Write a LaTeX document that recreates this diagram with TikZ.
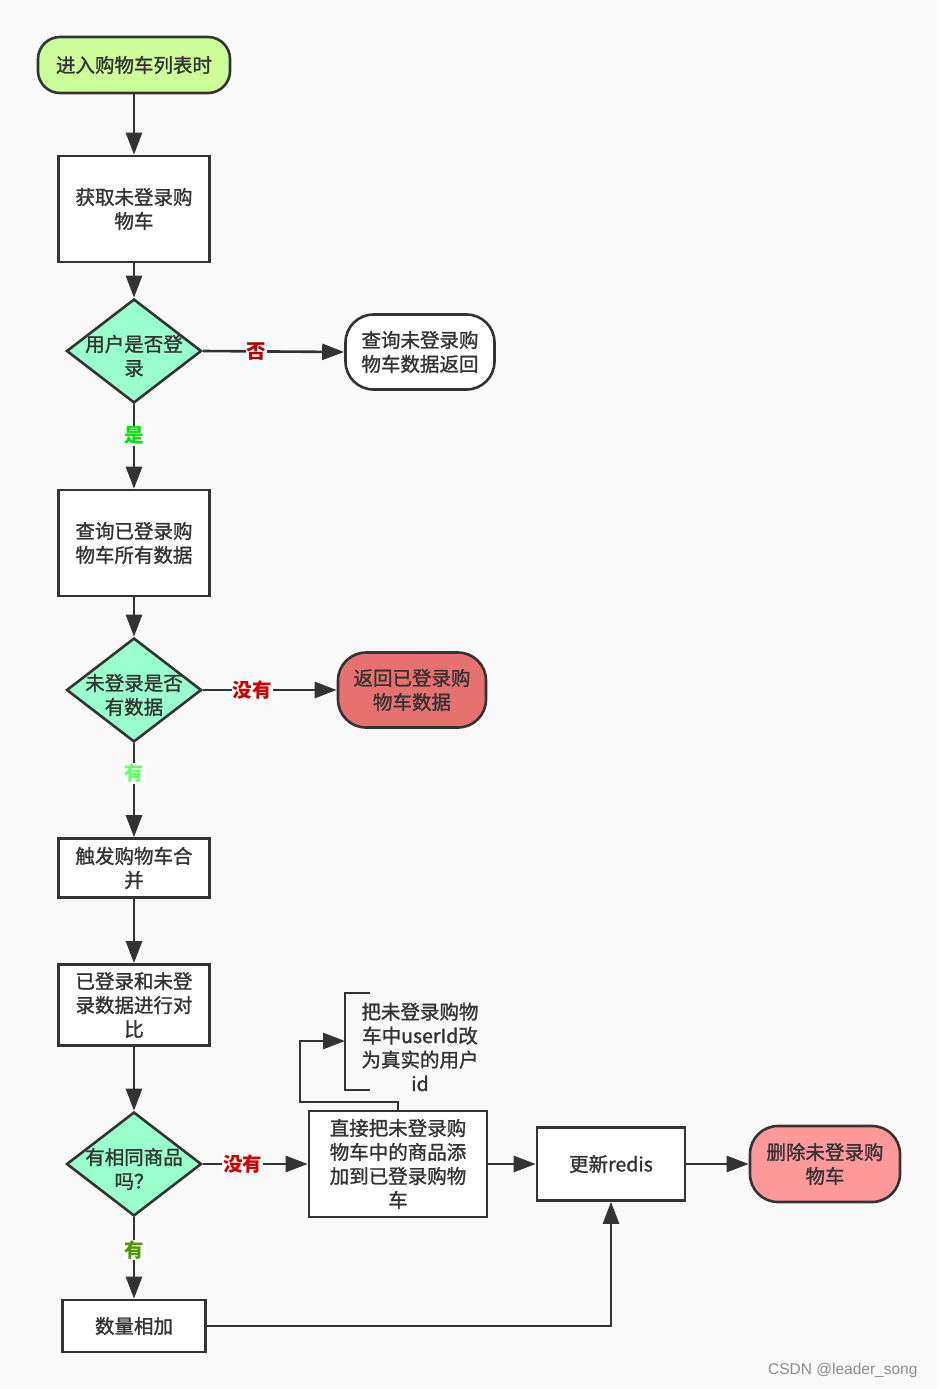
\documentclass[tikz,border=0pt]{standalone}
\usepackage{fontspec}
\setmainfont{Noto Sans CJK SC}[UprightFeatures={FakeBold=1.3}]
\newfontfamily\wmfont{Liberation Sans}
\usetikzlibrary{arrows.meta,shapes.geometric}

\definecolor{bgc}{HTML}{F9F9F9}
\definecolor{linec}{HTML}{333333}
\definecolor{startc}{HTML}{CCFF99}
\definecolor{mintc}{HTML}{99FFCC}
\definecolor{retc}{HTML}{E6716F}
\definecolor{endc}{HTML}{FF9999}

\tikzset{
  base/.style={draw=linec, line width=2.6pt, text=linec, align=center, inner sep=0pt,
    font=\fontsize{19.5}{24}\selectfont},
  terminal/.style={base, rectangle, rounded corners=28pt},
  process/.style={base, rectangle, fill=white},
  decision/.style={base, diamond, fill=mintc, minimum width=135pt, minimum height=104pt},
  txt/.style={text=linec, align=center, inner sep=0pt, font=\fontsize{19.5}{24}\selectfont},
  lbl/.style={fill=white, inner sep=1pt, font=\fontsize{19.5}{22}\selectfont\bfseries},
  flow/.style={draw=linec, line width=2.6pt, -{Triangle[length=22pt,width=16pt]}}
}

\begin{document}
\begin{tikzpicture}[x=1pt,y=-1pt]
  \useasboundingbox[fill=bgc] (0,0) rectangle (937,1389);

  % main column
  \node[terminal, fill=startc, rounded corners=22pt, minimum width=192pt, minimum height=56pt]
    (start) at (134,65) {进入购物车列表时};
  \node[process, minimum width=151pt, minimum height=106pt] (getcart) at (134,209) {获取未登录购\\物车};
  \node[decision] (islogin) at (134,351) {};
  \node[txt] (islogintxt) at (134,356) {用户是否登\\录};
  \node[process, minimum width=151pt, minimum height=106pt] (loadcart) at (134,543) {查询已登录购\\物车所有数据};
  \node[decision] (hasdata) at (134,690) {};
  \node[txt] (hasdatatxt) at (134,695) {未登录是否\\有数据};
  \node[process, minimum width=151pt, minimum height=59pt] (merge) at (134,868) {触发购物车合\\并};
  \node[process, minimum width=151pt, minimum height=81pt] (compare) at (134,1005) {已登录和未登\\录数据进行对\\比};
  \node[decision] (same) at (134,1164) {};
  \node[txt] (sametxt) at (134,1169) {有相同商品\\吗？};
  \node[process, minimum width=143pt, minimum height=52pt] (addnum) at (134,1326) {数量相加};

  % right side
  \node[terminal, fill=white, minimum width=149pt, minimum height=75pt] (retguest) at (420,352) {查询未登录购\\物车数据返回};
  \node[terminal, fill=retc, minimum width=148pt, minimum height=75pt] (retuser) at (412,690) {返回已登录购\\物车数据};
  \node[process, minimum width=178pt, minimum height=106pt] (addcart) at (398,1164) {直接把未登录购\\物车中的商品添\\加到已登录购物\\车};
  \node[process, minimum width=148pt, minimum height=73pt] (redis) at (611,1164) {更新redis};
  \node[terminal, fill=endc, minimum width=150pt, minimum height=76pt] (delcart) at (825,1164) {删除未登录购\\物车};

  % annotation
  \draw[linec, line width=2.6pt] (370,993) -- (345,993) -- (345,1090) -- (370,1090);
  \coordinate (note) at (345,1041);
  \node[txt] (notetxt) at (420,1047) {把未登录购物\\车中userId改\\为真实的用户\\id};

  % connectors
  \draw[flow] (start) -- (getcart);
  \draw[flow] (getcart) -- (islogin);
  \draw[flow] (islogin.east) -- node[lbl, text=red!70!black, pos=0.38] {否} (retguest.west);
  \draw[flow] (islogin.south) -- node[lbl, text=green!90!black, pos=0.37] {是} (loadcart.north);
  \draw[flow] (loadcart) -- (hasdata);
  \draw[flow] (hasdata.east) -- node[lbl, text=red!80!black, pos=0.37] {没有} (retuser.west);
  \draw[flow] (hasdata.south) -- node[lbl, text=green!60, pos=0.32] {有} (merge.north);
  \draw[flow] (merge) -- (compare);
  \draw[flow] (compare) -- (same);
  \draw[flow] (same.east) -- node[lbl, text=red!80!black, pos=0.38] {没有} (addcart.west);
  \draw[flow] (same.south) -- node[lbl, text={rgb,255:red,77;green,153;blue,0}, pos=0.4] {有} (addnum.north);
  \draw[flow] (addcart.north) -- (398,1102) -- (300,1102) -- (300,1041) -- (note);
  \draw[flow] (addcart.east) -- (redis.west);
  \draw[flow] (redis.east) -- (delcart.west);
  \draw[flow] (addnum.east) -| (redis.south);

  \node[text=black!45, font=\wmfont\fontsize{15.5}{17}\selectfont, anchor=east] (wm) at (921,1370) {CSDN @leader\_song};
\end{tikzpicture}
\end{document}
